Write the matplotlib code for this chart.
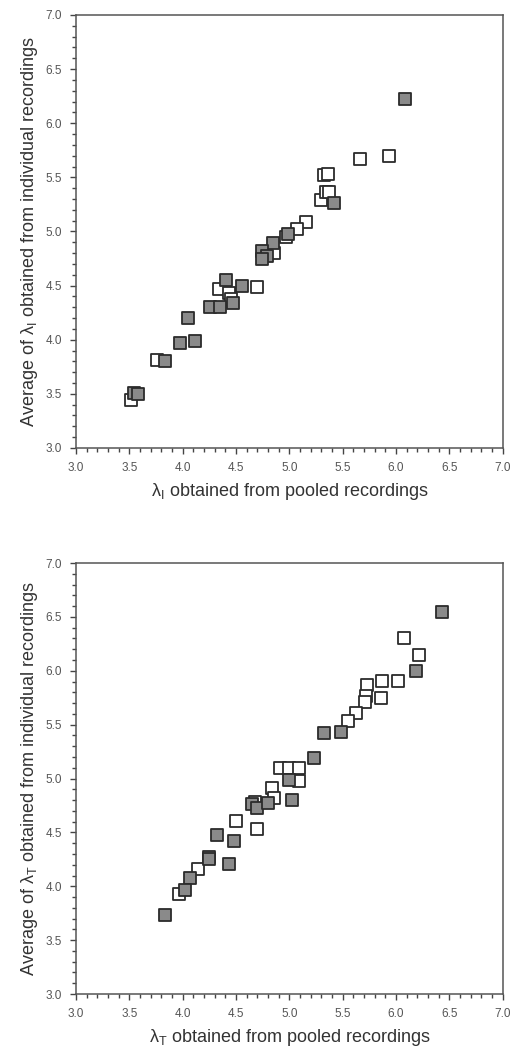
import numpy as np
import matplotlib.pyplot as plt
from matplotlib.ticker import MultipleLocator, FormatStrFormatter

plt.rcParams['font.family'] = ['Liberation Sans', 'DejaVu Sans']
plt.rcParams['mathtext.fontset'] = 'custom'
plt.rcParams['mathtext.rm'] = 'Liberation Sans'
plt.rcParams['mathtext.it'] = 'Liberation Sans'

# top panel, lambda_I : filled squares
xI_fill = [6.08, 5.42, 4.99, 4.85, 4.74, 4.79, 4.74, 4.41, 4.555, 4.255, 4.35, 4.47,
           4.05, 3.975, 4.12, 3.83, 3.54, 3.58]
yI_fill = [6.22, 5.26, 4.98, 4.89, 4.82, 4.77, 4.75, 4.55, 4.50, 4.30, 4.30, 4.34,
           4.20, 3.97, 3.985, 3.80, 3.51, 3.50]
# top panel, lambda_I : open squares
xI_open = [5.66, 5.93, 5.32, 5.36, 5.30, 5.34, 5.37, 5.16, 5.07, 4.97, 4.86, 4.34,
           4.43, 4.70, 3.76, 3.515, 4.45]
yI_open = [5.67, 5.695, 5.52, 5.53, 5.29, 5.36, 5.36, 5.09, 5.02, 4.95, 4.80, 4.47,
           4.43, 4.49, 3.81, 3.44, 4.38]

# bottom panel, lambda_T : filled squares
xT_fill = [6.43, 6.185, 5.48, 5.32, 5.23, 5.00, 5.02, 4.65, 4.70, 4.80, 4.32, 4.48,
           4.245, 4.25, 4.43, 4.07, 4.02, 3.83]
yT_fill = [6.545, 6.00, 5.43, 5.42, 5.19, 4.99, 4.80, 4.76, 4.73, 4.775, 4.475, 4.42,
           4.27, 4.25, 4.21, 4.08, 3.965, 3.73]
# bottom panel, lambda_T : open squares
xT_open = [6.07, 6.21, 5.87, 6.02, 5.73, 5.72, 5.71, 5.86, 5.62, 5.55, 4.91, 5.00,
           5.09, 5.09, 4.84, 4.86, 4.68, 4.50, 4.70, 4.14, 3.965]
yT_open = [6.30, 6.146, 5.905, 5.905, 5.87, 5.77, 5.71, 5.745, 5.61, 5.53, 5.10, 5.10,
           5.10, 4.98, 4.91, 4.82, 4.78, 4.61, 4.53, 4.16, 3.93]

ticks_fmt = FormatStrFormatter('%.1f')
dark = '#333333'

fig = plt.figure(figsize=(5.2, 10.55), dpi=100)
ax1 = fig.add_axes([0.146, 0.5754, 0.821, 0.4104])
ax2 = fig.add_axes([0.146, 0.0578, 0.821, 0.4085])


def draw(ax, xo, yo, xf, yf, sub):
    ax.scatter(xo, yo, marker='s', s=85, facecolor='white', edgecolor='#2b2b2b',
               linewidth=1.3, zorder=3)
    ax.scatter(xf, yf, marker='s', s=85, facecolor='#8a8a8a', edgecolor='#2b2b2b',
               linewidth=1.3, zorder=4)
    ax.set_xlim(3, 7)
    ax.set_ylim(3, 7)
    for a in (ax.xaxis, ax.yaxis):
        a.set_major_locator(MultipleLocator(0.5))
        a.set_minor_locator(MultipleLocator(0.1))
        a.set_major_formatter(ticks_fmt)
    ax.tick_params(which='both', direction='out', color='#444444', width=1,
                   labelsize=8.5, labelcolor='#555555', pad=6)
    ax.tick_params(which='major', length=4)
    ax.tick_params(which='minor', length=3)
    for s in ax.spines.values():
        s.set_color('#555555')
        s.set_linewidth(1.1)
    ax.set_xlabel(r'$\lambda_{\mathrm{%s}}$ obtained from pooled recordings' % sub,
                  fontsize=13, color=dark, labelpad=5)
    ax.set_ylabel(r'Average of $\lambda_{\mathrm{%s}}$ obtained from individual recordings' % sub,
                  fontsize=13, color=dark, labelpad=4)


draw(ax1, xI_open, yI_open, xI_fill, yI_fill, 'I')
draw(ax2, xT_open, yT_open, xT_fill, yT_fill, 'T')

fig.savefig('out.png', dpi=100, facecolor='white')
